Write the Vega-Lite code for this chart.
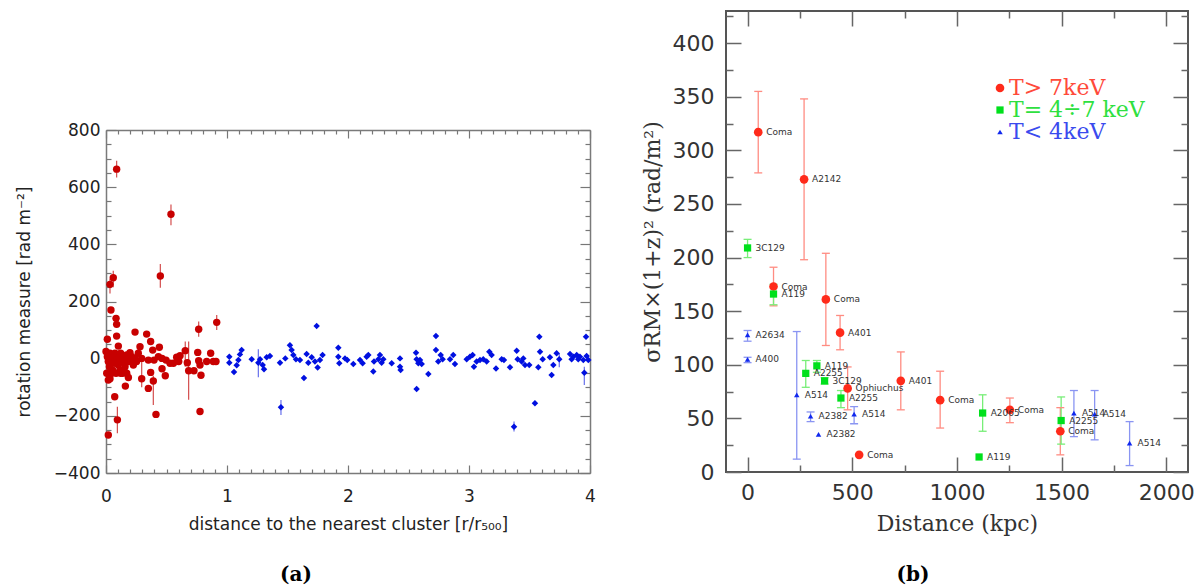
{
  "$schema": "https://vega.github.io/schema/vega-lite/v6.json",
  "background": "white",
  "padding": {"left": 15, "top": 4, "right": 5, "bottom": 5},
  "spacing": 44,
  "columns": 2,
  "align": "none",
  "bounds": "full",
  "config": {
    "view": {"stroke": null},
    "axis": {"grid": false, "domain": false, "labelOverlap": false, "labelFlush": false, "titleFontWeight": "normal"}
  },
  "datasets": {
    "rm": [
      {"x":0.088,"y":663,"lo":634,"hi":692,"g":"a"},{"x":0.537,"y":505,"lo":467,"hi":539,"g":"a"},{"x":0.449,"y":289,"lo":248,"hi":331,"g":"a"},
      {"x":0.06,"y":283,"lo":250,"hi":308,"g":"a"},{"x":0.033,"y":260,"lo":228,"hi":280,"g":"a"},{"x":0.041,"y":170,"g":"a"},
      {"x":0.083,"y":141,"g":"a"},{"x":0.088,"y":120,"g":"a"},{"x":0.088,"y":79,"g":"a"},{"x":0.24,"y":93,"g":"a"},
      {"x":0.336,"y":86,"g":"a"},{"x":0.915,"y":127,"lo":100,"hi":153,"g":"a"},{"x":0.766,"y":103,"lo":77,"hi":130,"g":"a"},
      {"x":0.011,"y":68,"g":"a"},{"x":0.102,"y":44,"g":"a"},{"x":0.281,"y":42,"g":"a"},{"x":0.369,"y":60,"g":"a"},
      {"x":0.386,"y":30,"g":"a"},{"x":0.441,"y":40,"g":"a"},{"x":0.198,"y":21,"g":"a"},{"x":0.35,"y":-5,"g":"a"},
      {"x":0.397,"y":-5,"g":"a"},{"x":0.295,"y":1,"g":"a"},{"x":0.463,"y":-35,"g":"a"},{"x":0.49,"y":-60,"g":"a"},
      {"x":0.369,"y":-48,"g":"a"},{"x":0.295,"y":-70,"lo":-100,"hi":10,"g":"a"},{"x":0.391,"y":-78,"lo":-162,"hi":-60,"g":"a"},
      {"x":0.35,"y":-104,"g":"a"},{"x":0.16,"y":-96,"g":"a"},{"x":0.185,"y":-66,"g":"a"},{"x":0.033,"y":-70,"g":"a"},
      {"x":0.072,"y":-133,"g":"a"},{"x":0.094,"y":-214,"lo":-261,"hi":-168,"g":"a"},{"x":0.019,"y":-267,"g":"a"},
      {"x":0.413,"y":-195,"g":"a"},{"x":0.777,"y":-185,"g":"a"},{"x":0.529,"y":-16,"g":"a"},{"x":0.584,"y":5,"g":"a"},
      {"x":0.612,"y":10,"g":"a"},{"x":0.655,"y":28,"lo":-28,"hi":60,"g":"a"},{"x":0.672,"y":-14,"g":"a"},
      {"x":0.683,"y":-42,"lo":-144,"hi":60,"g":"a"},{"x":0.727,"y":-42,"g":"a"},{"x":0.758,"y":22,"g":"a"},
      {"x":0.766,"y":-7,"g":"a"},{"x":0.785,"y":-58,"g":"a"},{"x":0.777,"y":-22,"g":"a"},{"x":0.832,"y":-10,"g":"a"},
      {"x":0.865,"y":19,"g":"a"},{"x":0.887,"y":-10,"g":"a"},{"x":0.909,"y":-10,"g":"a"},{"x":0.557,"y":-16,"g":"a"},
      {"x":0.601,"y":-10,"g":"a"},{"x":0.463,"y":1,"g":"a"},{"x":0.496,"y":-5,"g":"a"},{"x":0.433,"y":7,"g":"a"},
      {"x":0.0,"y":25,"g":"a"},{"x":0.011,"y":7,"g":"a"},{"x":0.019,"y":-10,"g":"a"},{"x":0.028,"y":-28,"g":"a"},
      {"x":0.033,"y":19,"g":"a"},{"x":0.047,"y":-5,"g":"a"},{"x":0.055,"y":-40,"g":"a"},{"x":0.06,"y":7,"g":"a"},
      {"x":0.066,"y":-16,"g":"a"},{"x":0.074,"y":19,"g":"a"},{"x":0.083,"y":-51,"g":"a"},{"x":0.088,"y":-5,"g":"a"},
      {"x":0.102,"y":-22,"g":"a"},{"x":0.11,"y":7,"g":"a"},{"x":0.116,"y":-40,"g":"a"},{"x":0.121,"y":19,"g":"a"},
      {"x":0.129,"y":-10,"g":"a"},{"x":0.138,"y":-51,"g":"a"},{"x":0.143,"y":1,"g":"a"},{"x":0.157,"y":-28,"g":"a"},
      {"x":0.165,"y":-5,"g":"a"},{"x":0.171,"y":13,"g":"a"},{"x":0.184,"y":-10,"g":"a"},{"x":0.193,"y":1,"g":"a"},
      {"x":0.212,"y":7,"g":"a"},{"x":0.226,"y":-5,"g":"a"},{"x":0.24,"y":1,"g":"a"},{"x":0.253,"y":-10,"g":"a"},
      {"x":0.006,"y":-51,"g":"a"},{"x":0.019,"y":-75,"g":"a"},{"x":0.047,"y":-51,"g":"a"},{"x":0.121,"y":-51,"g":"a"},
      {"x":0.149,"y":-45,"g":"a"},{"x":0.171,"y":-51,"g":"a"},{"x":0.226,"y":-22,"g":"a"},{"x":0.267,"y":19,"g":"a"},
      {"x":1.019,"y":7,"g":"b"},{"x":1.019,"y":-14,"g":"b"},{"x":1.058,"y":-47,"g":"b"},{"x":1.08,"y":-23,"g":"b"},
      {"x":1.094,"y":-5,"g":"b"},{"x":1.107,"y":15,"g":"b"},{"x":1.121,"y":30,"g":"b"},{"x":1.204,"y":-2,"g":"b"},
      {"x":1.259,"y":-14,"lo":-65,"hi":33,"g":"b"},{"x":1.273,"y":-2,"g":"b"},{"x":1.295,"y":-22,"g":"b"},{"x":1.306,"y":-37,"g":"b"},
      {"x":1.328,"y":5,"g":"b"},{"x":1.355,"y":9,"g":"b"},{"x":1.438,"y":-14,"g":"b"},{"x":1.446,"y":-170,"lo":-197,"hi":-145,"g":"b"},
      {"x":1.482,"y":1,"g":"b"},{"x":1.52,"y":47,"g":"b"},{"x":1.534,"y":30,"g":"b"},{"x":1.548,"y":13,"g":"b"},
      {"x":1.57,"y":-2,"g":"b"},{"x":1.603,"y":-5,"g":"b"},{"x":1.636,"y":-68,"g":"b"},{"x":1.658,"y":16,"g":"b"},
      {"x":1.672,"y":-14,"g":"b"},{"x":1.7,"y":5,"g":"b"},{"x":1.727,"y":-10,"g":"b"},{"x":1.741,"y":114,"g":"b"},
      {"x":1.749,"y":-31,"g":"b"},{"x":1.768,"y":-5,"g":"b"},{"x":1.79,"y":13,"g":"b"},{"x":1.92,"y":38,"g":"b"},
      {"x":1.92,"y":7,"g":"b"},{"x":1.928,"y":-16,"g":"b"},{"x":1.975,"y":1,"g":"b"},{"x":1.994,"y":-5,"g":"b"},
      {"x":2.044,"y":-19,"g":"b"},{"x":2.099,"y":-5,"g":"b"},{"x":2.121,"y":-16,"g":"b"},{"x":2.154,"y":7,"g":"b"},
      {"x":2.168,"y":13,"g":"b"},{"x":2.209,"y":-45,"g":"b"},{"x":2.215,"y":-10,"g":"b"},{"x":2.251,"y":-2,"g":"b"},
      {"x":2.264,"y":13,"g":"b"},{"x":2.278,"y":-14,"g":"b"},{"x":2.292,"y":-2,"g":"b"},{"x":2.361,"y":-16,"g":"b"},
      {"x":2.43,"y":1,"g":"b"},{"x":2.43,"y":-28,"g":"b"},{"x":2.435,"y":-40,"g":"b"},{"x":2.562,"y":21,"g":"b"},
      {"x":2.567,"y":-2,"g":"b"},{"x":2.567,"y":-106,"g":"b"},{"x":2.581,"y":-16,"g":"b"},{"x":2.595,"y":-5,"g":"b"},
      {"x":2.609,"y":-19,"g":"b"},{"x":2.664,"y":-54,"g":"b"},{"x":2.727,"y":79,"g":"b"},{"x":2.727,"y":30,"g":"b"},
      {"x":2.746,"y":-10,"g":"b"},{"x":2.766,"y":13,"g":"b"},{"x":2.782,"y":-2,"g":"b"},{"x":2.843,"y":-2,"g":"b"},
      {"x":2.87,"y":13,"g":"b"},{"x":2.884,"y":-19,"g":"b"},{"x":2.981,"y":-2,"g":"b"},{"x":3.008,"y":7,"g":"b"},
      {"x":3.03,"y":13,"g":"b"},{"x":3.041,"y":-28,"g":"b"},{"x":3.063,"y":-10,"g":"b"},{"x":3.091,"y":-5,"g":"b"},
      {"x":3.118,"y":-2,"g":"b"},{"x":3.146,"y":-10,"g":"b"},{"x":3.168,"y":24,"g":"b"},{"x":3.187,"y":13,"g":"b"},
      {"x":3.223,"y":-34,"g":"b"},{"x":3.27,"y":-2,"g":"b"},{"x":3.289,"y":-5,"g":"b"},{"x":3.339,"y":-30,"g":"b"},
      {"x":3.372,"y":-238,"lo":-255,"hi":-220,"g":"b"},{"x":3.394,"y":28,"g":"b"},{"x":3.402,"y":-2,"g":"b"},{"x":3.435,"y":-10,"g":"b"},
      {"x":3.449,"y":1,"g":"b"},{"x":3.463,"y":-22,"g":"b"},{"x":3.498,"y":-22,"g":"b"},{"x":3.545,"y":-156,"g":"b"},
      {"x":3.573,"y":-30,"g":"b"},{"x":3.581,"y":77,"g":"b"},{"x":3.587,"y":24,"g":"b"},{"x":3.609,"y":-2,"g":"b"},
      {"x":3.669,"y":5,"g":"b"},{"x":3.683,"y":-57,"g":"b"},{"x":3.697,"y":-22,"g":"b"},{"x":3.724,"y":19,"g":"b"},
      {"x":3.746,"y":-2,"lo":-30,"hi":20,"g":"b"},{"x":3.835,"y":16,"g":"b"},{"x":3.848,"y":-2,"g":"b"},{"x":3.862,"y":7,"g":"b"},
      {"x":3.89,"y":13,"g":"b"},{"x":3.903,"y":-2,"g":"b"},{"x":3.917,"y":7,"g":"b"},{"x":3.945,"y":-5,"g":"b"},
      {"x":3.953,"y":-49,"lo":-92,"hi":-28,"g":"b"},{"x":3.967,"y":77,"g":"b"},{"x":3.972,"y":9,"g":"b"},{"x":3.986,"y":-5,"g":"b"}
    ],
    "sig": [
      {"d":51,"s":317,"lo":279,"hi":355,"name":"Coma","T":"T> 7keV"},
      {"d":270,"s":273,"lo":198,"hi":348,"name":"A2142","T":"T> 7keV"},
      {"d":124,"s":173,"lo":155,"hi":191,"name":"Coma","T":"T> 7keV"},
      {"d":374,"s":161,"lo":118,"hi":204,"name":"Coma","T":"T> 7keV"},
      {"d":442,"s":130,"lo":114,"hi":146,"name":"A401","T":"T> 7keV"},
      {"d":478,"s":78,"lo":58,"hi":98,"name":"Ophiuchus","T":"T> 7keV"},
      {"d":533,"s":16,"name":"Coma","T":"T> 7keV"},
      {"d":732,"s":85,"lo":58,"hi":112,"name":"A401","T":"T> 7keV"},
      {"d":920,"s":67,"lo":41,"hi":94,"name":"Coma","T":"T> 7keV"},
      {"d":1253,"s":58,"lo":46,"hi":69,"name":"Coma","T":"T> 7keV"},
      {"d":1494,"s":38,"lo":16,"hi":60,"name":"Coma","T":"T> 7keV"},
      {"d":0,"s":209,"lo":200,"hi":217,"name":"3C129","T":"T= 4÷7 keV"},
      {"d":124,"s":166,"lo":156,"hi":175,"name":"A119","T":"T= 4÷7 keV"},
      {"d":278,"s":92,"lo":79,"hi":104,"name":"A2255","T":"T= 4÷7 keV"},
      {"d":331,"s":99,"lo":93,"hi":104,"name":"A119","T":"T= 4÷7 keV"},
      {"d":368,"s":85,"lo":82,"hi":88,"name":"3C129","T":"T= 4÷7 keV"},
      {"d":446,"s":69,"lo":60,"hi":76,"name":"A2255","T":"T= 4÷7 keV"},
      {"d":1123,"s":55,"lo":38,"hi":72,"name":"A2065","T":"T= 4÷7 keV"},
      {"d":1106,"s":14,"name":"A119","T":"T= 4÷7 keV"},
      {"d":1498,"s":48,"lo":26,"hi":70,"name":"A2255","T":"T= 4÷7 keV"},
      {"d":0,"s":128,"lo":122,"hi":132,"name":"A2634","T":"T< 4keV"},
      {"d":0,"s":105,"lo":102,"hi":107,"name":"A400","T":"T< 4keV"},
      {"d":235,"s":72,"lo":12,"hi":131,"name":"A514","T":"T< 4keV"},
      {"d":301,"s":52,"lo":47,"hi":56,"name":"A2382","T":"T< 4keV"},
      {"d":509,"s":54,"lo":45,"hi":61,"name":"A514","T":"T< 4keV"},
      {"d":339,"s":35,"name":"A2382","T":"T< 4keV"},
      {"d":1559,"s":55,"lo":33,"hi":76,"name":"A514","T":"T< 4keV"},
      {"d":1658,"s":54,"lo":30,"hi":76,"name":"A514","T":"T< 4keV"},
      {"d":1825,"s":27,"lo":6,"hi":47,"name":"A514","T":"T< 4keV"}
    ]
  },
  "concat": [
    {
      "width": 484,
      "height": 462,
      "data": {"name": "rm"},
      "title": {"text": "(a)", "orient": "bottom", "anchor": "middle", "frame": "group", "dx": -52, "offset": 33, "font": "DejaVu Serif", "fontSize": 20, "fontWeight": "bold", "color": "#000"},
      "layer": [
        {
          "transform": [{"filter": "datum.g === 'a' && datum.lo != null"}],
          "mark": {"type": "rule", "color": "#c00000", "opacity": 0.7, "strokeWidth": 1.2},
          "encoding": {
            "x": {"field": "x", "type": "quantitative", "scale": {"domain": [0, 4], "nice": false, "zero": false},
              "axis": {"orient": "bottom", "values": [0,0.1,0.2,0.3,0.4,0.5,0.6,0.7,0.8,0.9,1,1.1,1.2,1.3,1.4,1.5,1.6,1.7,1.8,1.9,2,2.1,2.2,2.3,2.4,2.5,2.6,2.7,2.8,2.9,3,3.1,3.2,3.3,3.4,3.5,3.6,3.7,3.8,3.9,4],
                "format": ".0f", "labelExpr": "datum.value % 1 === 0 ? datum.label : ''",
                "tickSize": {"condition": {"test": "datum.value % 1 === 0", "value": -8}, "value": -4},
                "domain": true, "domainColor": "#7a7a7a", "domainWidth": 1.5,
                "tickColor": "#777", "tickWidth": 1.2, "labelFont": "DejaVu Sans", "labelFontSize": 17, "labelColor": "#222", "labelPadding": 23,
                "title": "distance to the nearest cluster [r/r₅₀₀]", "titleFont": "DejaVu Sans", "titleFontSize": 17, "titleColor": "#222", "titlePadding": 8}},
            "y": {"field": "lo", "type": "quantitative", "scale": {"domain": [-400, 800], "nice": false, "zero": false, "range": [462, 119]},
              "axis": {"orient": "left", "values": [-400,-350,-300,-250,-200,-150,-100,-50,0,50,100,150,200,250,300,350,400,450,500,550,600,650,700,750,800],
                "format": ".0f", "labelExpr": "datum.value % 200 === 0 ? datum.label : ''",
                "tickSize": {"condition": {"test": "datum.value % 200 === 0", "value": -10}, "value": -5},
                "domain": true, "domainColor": "#7a7a7a", "domainWidth": 1.5,
                "tickColor": "#777", "tickWidth": 1.2, "labelFont": "DejaVu Sans", "labelFontSize": 17, "labelColor": "#222", "labelPadding": 16,
                "title": "rotation measure [rad m⁻²]", "titleFont": "DejaVu Sans", "titleFontSize": 17, "titleColor": "#222", "titlePadding": 20}},
            "y2": {"field": "hi"}
          }
        },
        {
          "transform": [{"filter": "datum.g === 'a'"}],
          "mark": {"type": "circle", "color": "#c80000", "opacity": 1, "size": 55},
          "encoding": {
            "x": {"field": "x", "type": "quantitative", "axis": null},
            "y": {"field": "y", "type": "quantitative", "axis": null}
          }
        },
        {
          "transform": [{"filter": "datum.g === 'b' && datum.lo != null"}],
          "mark": {"type": "rule", "color": "#0010e0", "opacity": 0.6, "strokeWidth": 1.2},
          "encoding": {
            "x": {"field": "x", "type": "quantitative", "axis": null},
            "y": {"field": "lo", "type": "quantitative", "axis": null},
            "y2": {"field": "hi"}
          }
        },
        {
          "transform": [{"filter": "datum.g === 'b'"}],
          "mark": {"type": "point", "shape": "diamond", "filled": true, "color": "#0010e0", "opacity": 1, "size": 42},
          "encoding": {
            "x": {"field": "x", "type": "quantitative",
              "axis": {"orient": "top", "offset": -119, "values": [0,0.1,0.2,0.3,0.4,0.5,0.6,0.7,0.8,0.9,1,1.1,1.2,1.3,1.4,1.5,1.6,1.7,1.8,1.9,2,2.1,2.2,2.3,2.4,2.5,2.6,2.7,2.8,2.9,3,3.1,3.2,3.3,3.4,3.5,3.6,3.7,3.8,3.9,4],
                "labels": false, "tickSize": {"condition": {"test": "datum.value % 1 === 0", "value": -8}, "value": -4},
                "domain": true, "domainColor": "#7a7a7a", "domainWidth": 1.5,
                "tickColor": "#777", "tickWidth": 1.2, "title": null}},
            "y": {"field": "y", "type": "quantitative",
              "axis": {"orient": "right", "values": [-400,-350,-300,-250,-200,-150,-100,-50,0,50,100,150,200,250,300,350,400,450,500,550,600,650,700,750,800],
                "labels": false, "tickSize": {"condition": {"test": "datum.value % 200 === 0", "value": -10}, "value": -5},
                "domain": true, "domainColor": "#7a7a7a", "domainWidth": 1.5,
                "tickColor": "#777", "tickWidth": 1.2, "title": null}}
          }
        }
      ],
      "resolve": {"axis": {"x": "independent", "y": "independent"}}
    },
    {
      "width": 462,
      "height": 461,
      "view": {"stroke": "#555", "strokeWidth": 2},
      "data": {"name": "sig"},
      "title": {"text": "(b)", "orient": "bottom", "anchor": "middle", "frame": "group", "dx": -44, "offset": 31, "font": "DejaVu Serif", "fontSize": 20, "fontWeight": "bold", "color": "#000"},
      "layer": [
        {
          "transform": [{"filter": "datum.lo != null"}],
          "mark": {"type": "rule", "strokeWidth": 1.3},
          "encoding": {
            "x": {"field": "d", "type": "quantitative", "scale": {"domain": [-103, 2104], "nice": false, "zero": false},
              "axis": {"orient": "bottom", "values": [0,250,500,750,1000,1250,1500,1750,2000],
                "format": ".0f", "labelExpr": "datum.value % 500 === 0 ? datum.label : ''",
                "tickSize": {"condition": {"test": "datum.value % 500 === 0", "value": -15}, "value": -7},
                "tickColor": "#666", "tickWidth": 1.5, "labelFont": "DejaVu Sans", "labelFontSize": 22, "labelColor": "#333", "labelPadding": 25,
                "title": "Distance (kpc)", "titleFont": "DejaVu Serif", "titleFontSize": 22, "titleColor": "#333", "titlePadding": 2}},
            "y": {"field": "lo", "type": "quantitative", "scale": {"domain": [0, 430], "nice": false, "zero": false},
              "axis": {"orient": "left", "values": [0,25,50,75,100,125,150,175,200,225,250,275,300,325,350,375,400,425],
                "format": ".0f", "labelExpr": "datum.value % 50 === 0 ? datum.label : ''",
                "tickSize": {"condition": {"test": "datum.value % 50 === 0", "value": -15}, "value": -7},
                "tickColor": "#666", "tickWidth": 1.5, "labelFont": "DejaVu Sans", "labelFontSize": 22, "labelColor": "#333", "labelPadding": 27,
                "title": "σRM×(1+z)² (rad/m²)", "titleFont": "DejaVu Serif", "titleFontSize": 22, "titleColor": "#333", "titlePadding": 8}},
            "y2": {"field": "hi"},
            "stroke": {"field": "T", "type": "nominal", "scale": {"domain": ["T< 4keV", "T= 4÷7 keV", "T> 7keV"], "range": ["#8a95f2", "#78ee78", "#ff8c82"]}, "legend": null}
          }
        },
        {
          "transform": [{"filter": "datum.lo != null"}, {"fold": ["lo", "hi"], "as": ["k", "v"]}],
          "mark": {"type": "tick", "orient": "horizontal", "size": 8, "thickness": 1.3, "opacity": 1},
          "encoding": {
            "x": {"field": "d", "type": "quantitative", "axis": null},
            "y": {"field": "v", "type": "quantitative", "axis": null},
            "fill": {"field": "T", "type": "nominal", "scale": {"domain": ["T< 4keV", "T= 4÷7 keV", "T> 7keV"], "range": ["#8a95f2", "#78ee78", "#ff8c82"]}, "legend": null}
          }
        },
        {
          "mark": {"type": "point", "filled": true, "opacity": 1, "strokeWidth": 0},
          "encoding": {
            "x": {"field": "d", "type": "quantitative", "axis": null},
            "y": {"field": "s", "type": "quantitative", "axis": null},
            "color": {"field": "T", "type": "nominal", "scale": {"domain": ["T> 7keV", "T= 4÷7 keV", "T< 4keV"], "range": ["#ff2a1a", "#00e01c", "#1028ee"]},
              "legend": {"orient": "none", "legendX": 883, "legendY": 66, "title": null, "labelFont": "DejaVu Serif", "labelFontSize": 22, "rowPadding": -1, "labelOffset": -2,
                "labelColor": {"expr": "datum.value === 'T> 7keV' ? '#ff4a3a' : datum.value === 'T< 4keV' ? '#3a4aee' : '#2ee040'"}}},
            "shape": {"field": "T", "type": "nominal", "scale": {"domain": ["T> 7keV", "T= 4÷7 keV", "T< 4keV"], "range": ["circle", "square", "triangle-up"]},
              "legend": {"orient": "none", "legendX": 883, "legendY": 66, "title": null, "labelFont": "DejaVu Serif", "labelFontSize": 22, "rowPadding": -1, "labelOffset": -2,
                "labelColor": {"expr": "datum.value === 'T> 7keV' ? '#ff4a3a' : datum.value === 'T< 4keV' ? '#3a4aee' : '#2ee040'"}}},
            "size": {"field": "T", "type": "nominal", "scale": {"domain": ["T> 7keV", "T= 4÷7 keV", "T< 4keV"], "range": [75, 30, 36]},
              "legend": {"orient": "none", "legendX": 883, "legendY": 66, "title": null, "labelFont": "DejaVu Serif", "labelFontSize": 22, "rowPadding": -1, "labelOffset": -2,
                "labelColor": {"expr": "datum.value === 'T> 7keV' ? '#ff4a3a' : datum.value === 'T< 4keV' ? '#3a4aee' : '#2ee040'"}}}
          }
        },
        {
          "mark": {"type": "text", "align": "left", "baseline": "middle", "dx": 8, "font": "DejaVu Sans", "fontSize": 9, "color": "#333"},
          "encoding": {
            "x": {"field": "d", "type": "quantitative",
              "axis": {"orient": "top", "values": [0,250,500,750,1000,1250,1500,1750,2000], "labels": false,
                "tickSize": {"condition": {"test": "datum.value % 500 === 0", "value": -15}, "value": -7},
                "tickColor": "#666", "tickWidth": 1.5, "title": null}},
            "y": {"field": "s", "type": "quantitative",
              "axis": {"orient": "right", "values": [0,25,50,75,100,125,150,175,200,225,250,275,300,325,350,375,400,425], "labels": false,
                "tickSize": {"condition": {"test": "datum.value % 50 === 0", "value": -15}, "value": -7},
                "tickColor": "#666", "tickWidth": 1.5, "title": null}},
            "text": {"field": "name"}
          }
        }
      ],
      "resolve": {"axis": {"x": "independent", "y": "independent"}}
    }
  ]
}
